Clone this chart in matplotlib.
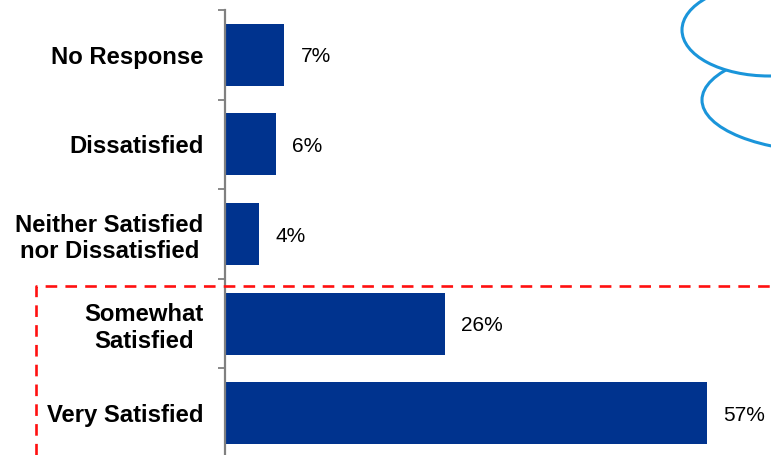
import matplotlib
matplotlib.use("Agg")
import matplotlib.pyplot as plt
import numpy as np
from matplotlib.patches import Ellipse
from matplotlib.lines import Line2D

plt.rcParams['font.family'] = ['Liberation Sans', 'DejaVu Sans']

categories = ["No Response", "Dissatisfied", "Neither Satisfied\nnor Dissatisfied",
              "Somewhat\nSatisfied", "Very Satisfied"]
values = [7, 6, 4, 26, 57]
value_labels = ["7%", "6%", "4%", "26%", "57%"]

W, H = 771, 455
fig = plt.figure(figsize=(W / 100, H / 100), dpi=100)

# main bar axes, bottom edge runs a little past the canvas
ax = fig.add_axes([225 / W, 1 - 458 / H, 1 - 225 / W, 448 / H])
pos = np.arange(len(categories))
ax.barh(pos, values, height=0.69, color="#00338E", zorder=2)
ax.set_ylim(len(categories) - 0.5, -0.5)
ax.set_xlim(0, 64.6)

for p, v, lab in zip(pos, values, value_labels):
    ax.annotate(lab, (v, p), xytext=(11.8, -1.5), textcoords="offset points",
                va="center", ha="left", fontsize=15, color="black")

ax.set_yticks(pos)
ax.set_yticklabels(categories, fontsize=17.2, fontweight="bold", linespacing=1.2)
for t in ax.get_yticklabels():
    t.set_multialignment("center")
ax.set_yticks(np.arange(len(categories) + 1) - 0.5, minor=True)
ax.tick_params(axis="y", which="major", length=0, pad=15.5)
ax.tick_params(axis="y", which="minor", length=5, width=1.3, color="#808080")
ax.set_xticks([])
for s in ["top", "right", "bottom"]:
    ax.spines[s].set_visible(False)
ax.spines["left"].set_color("#808080")
ax.spines["left"].set_linewidth(1.6)

# overlay in pixel coordinates for the callout shapes
ov = fig.add_axes([0, 0, 1, 1])
ov.set_xlim(0, W)
ov.set_ylim(H, 0)
ov.axis("off")
ov.patch.set_alpha(0)

cloud = "#1A95DA"
ov.add_patch(Ellipse((832, 100), 260, 104, facecolor="white", edgecolor=cloud, lw=2.2, zorder=1))
ov.add_patch(Ellipse((769, 30), 174, 92, facecolor="white", edgecolor=cloud, lw=2.2, zorder=2))

ov.add_line(Line2D([36, 36, W], [H, 286, 286], color="#FF1010", lw=1.9,
                   linestyle=(0, (4.4, 3.1)), zorder=3))

fig.savefig("out.png", dpi=100)
